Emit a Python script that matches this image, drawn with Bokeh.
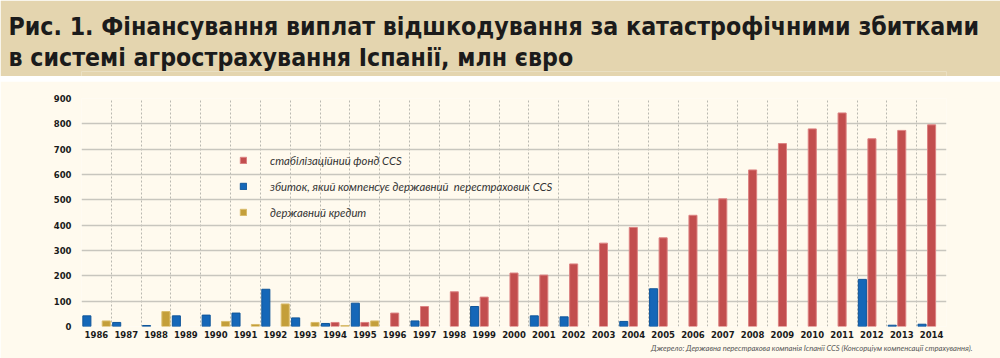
from bokeh.plotting import figure
from bokeh.models import (ColumnDataSource, Range1d, FixedTicker, Legend, LegendItem, Title,
                          CDSView, BooleanFilter)
from bokeh.layouts import column
from bokeh.transform import dodge
from bokeh.embed import file_html
from bokeh.resources import INLINE

# ---------------- data (million euro) ----------------
years = [1986, 1987, 1988, 1989, 1990, 1991, 1992, 1993, 1994, 1995,
         1996, 1997, 1998, 1999, 2000, 2001, 2002, 2003, 2004, 2005,
         2006, 2007, 2008, 2009, 2010, 2011, 2012, 2013, 2014]
stab_fund = [0, 0, 0, 0, 0, 0, 0, 0, 16, 16,
             53, 79, 137, 116, 211, 203, 247, 329, 391, 350,
             439, 504, 618, 722, 780, 843, 741, 774, 796]
reinsurer = [42, 16, 4, 42, 45, 53, 147, 34, 12, 92,
             0, 22, 0, 79, 0, 42, 38, 0, 20, 149,
             0, 0, 0, 0, 0, 0, 186, 5, 9]
state_credit = [22, 0, 59, 0, 20, 8, 89, 16, 4, 22,
                0, 0, 0, 0, 0, 0, 0, 0, 0, 0,
                0, 0, 0, 0, 0, 0, 0, 0, 0]
y_ticks = [0, 100, 200, 300, 400, 500, 600, 700, 800, 900]

labels = ["стабілізаційний фонд CCS",
          "збиток, який компенсує державний  перестраховик CCS",
          "державний кредит"]
title_lines = ["Рис. 1. Фінансування виплат відшкодування за катастрофічними збитками",
               "в системі агрострахування Іспанії, млн євро"]
source_note = "Джерело: Державна перестрахова компанія Іспанії CCS (Консорціум компенсації страхування)."

# ---------------- styling ----------------
BAND = "#E4D5AF"
CREAM = "#FFFAEE"
RULE = "#141414"
RED, RED_EDGE = "#C24E4E", "#DC8282"
BLUE, BLUE_EDGE = "#1567B8", "#0F5599"
GOLD, GOLD_EDGE = "#C49F3A", "#D9BC6C"
TITLE_FONT = "DejaVu Sans Condensed"
TICK_FONT = "DejaVu Sans"

W = 1000
FL, FR = 81, 946          # frame left / right (px)
BAND_H, RULE_H, CHART_H = 76, 5, 277


def bare(fig, color):
    fig.axis.visible = False
    fig.grid.visible = False
    fig.outline_line_color = None
    fig.background_fill_color = color
    fig.border_fill_color = color


# ---------------- title band ----------------
t = figure(width=W, height=BAND_H, x_range=Range1d(0, 1), y_range=Range1d(0, 1),
           output_backend="svg", toolbar_location=None,
           min_border_left=FL, min_border_right=W - FR, min_border_top=71, min_border_bottom=0)
bare(t, BAND)
for line in reversed(title_lines):      # first added sits closest to the frame
    t.add_layout(Title(text=line, align="left", offset=8 - FL, standoff=0,
                       text_font=TITLE_FONT, text_font_style="bold", text_font_size="24.7px",
                       text_color="#1B1B1B"), "above")

# ---------------- dark rule ----------------
r = figure(width=W, height=RULE_H, x_range=Range1d(0, 1), y_range=Range1d(0, 1),
           output_backend="svg", toolbar_location=None, min_border=0,
           min_border_left=FL, min_border_right=W - FR)
bare(r, RULE)

# ---------------- chart ----------------
n = len(years)
xs = [i + 0.5 for i in range(n)]
src = ColumnDataSource(dict(x=xs, stab=stab_fund, reins=reinsurer, cred=state_credit))

p = figure(width=W, height=CHART_H, x_range=Range1d(0, n), y_range=Range1d(0, 900),
           output_backend="svg", toolbar_location=None,
           min_border_left=FL, min_border_right=W - FR, min_border_top=17, min_border_bottom=32)
p.background_fill_color = CREAM
p.border_fill_color = CREAM
p.outline_line_color = None


def nonzero(vals):
    return CDSView(filter=BooleanFilter([v > 0 for v in vals]))


bw = 0.27
r_blue = p.vbar(x=dodge("x", -0.32), top="reins", width=bw, source=src, view=nonzero(reinsurer),
                fill_color=BLUE, line_color=BLUE_EDGE, line_width=1)
r_red = p.vbar(x=dodge("x", 0.0), top="stab", width=bw, source=src, view=nonzero(stab_fund),
               fill_color=RED, line_color=RED_EDGE, line_width=1)
r_gold = p.vbar(x=dodge("x", 0.33), top="cred", width=bw, source=src, view=nonzero(state_credit),
                fill_color=GOLD, line_color=GOLD_EDGE, line_width=1)

# axes
p.xaxis.ticker = FixedTicker(ticks=xs)
p.xaxis.major_label_overrides = {x: str(y) for x, y in zip(xs, years)}
p.yaxis.ticker = FixedTicker(ticks=y_ticks)
for ax in (p.xaxis, p.yaxis):
    ax.axis_line_color = None
    ax.major_tick_line_color = None
    ax.minor_tick_line_color = None
    ax.major_tick_out = 0
    ax.major_tick_in = 0
    ax.minor_tick_out = 0
    ax.minor_tick_in = 0
    ax.major_label_text_font = TICK_FONT
    ax.major_label_text_font_style = "bold"
    ax.major_label_text_font_size = "8.5px"
    ax.major_label_text_color = "#1A1A1A"
p.xaxis.major_label_standoff = 4
p.yaxis.major_label_standoff = 10

# grids
p.xgrid.ticker = FixedTicker(ticks=list(range(n + 1)))
p.xgrid.grid_line_color = "#B9B8B0"
p.xgrid.grid_line_dash = "2 2"
p.xgrid.grid_line_width = 1
p.ygrid.ticker = FixedTicker(ticks=y_ticks)
p.ygrid.grid_line_color = "#C8C6BE"
p.ygrid.grid_line_width = 1.6

# legend
legend = Legend(items=[LegendItem(label=labels[0], renderers=[r_red]),
                       LegendItem(label=labels[1], renderers=[r_blue]),
                       LegendItem(label=labels[2], renderers=[r_gold])],
                location=(158, 104), background_fill_alpha=0, border_line_color=None,
                padding=0, margin=0, spacing=6, glyph_height=8, glyph_width=8,
                label_height=20, label_standoff=23, label_text_font="Lato",
                label_text_font_style="italic", label_text_font_size="11.3px",
                label_text_color="#333333")
p.add_layout(legend)

# source note (below the x axis, right aligned)
p.add_layout(Title(text=source_note, align="right", offset=-26, standoff=0,
                   text_font="Lato", text_font_style="italic", text_font_size="7.6px",
                   text_color="#555555"), "below")

layout = column(t, r, p, spacing=0)
open("out.html", "w").write(file_html(layout, INLINE))
